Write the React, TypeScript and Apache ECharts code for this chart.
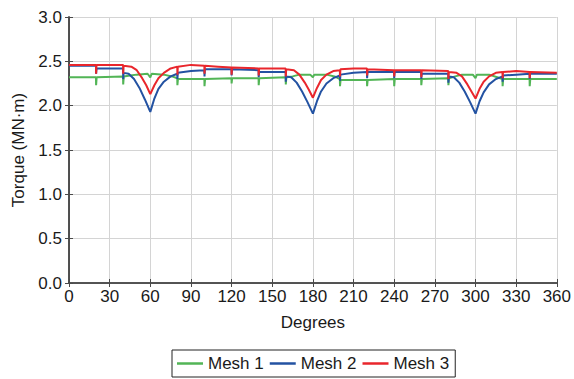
import React, { useEffect, useRef } from "react";
import * as echarts from "echarts";

const seriesNames = ["Mesh 1", "Mesh 2", "Mesh 3"];
const seriesColors = ["#52b556", "#2352a2", "#e9262c"];

const xTicks = { min: 0, max: 360, interval: 30 };
const yTicks = { min: 0, max: 3, interval: 0.5 };

const mesh1: [number, number][] = [
  [0, 2.32], [19.9, 2.32], [20, 2.23], [20.4, 2.32], [39.9, 2.33], [40, 2.24], [40.4, 2.33],
  [45, 2.34], [50, 2.35], [58, 2.36], [60, 2.32], [61, 2.36], [70, 2.35], [76, 2.33],
  [79.9, 2.31], [80, 2.23], [80.4, 2.30], [99.9, 2.30], [100, 2.22], [100.4, 2.30],
  [119.9, 2.31], [120, 2.25], [120.4, 2.31], [139.9, 2.31], [140, 2.23], [140.4, 2.31],
  [159.9, 2.32], [160, 2.24], [160.4, 2.32], [165, 2.33], [170, 2.35], [178, 2.35],
  [180, 2.32], [181, 2.35], [190, 2.35], [196, 2.33], [199.9, 2.30], [200, 2.22],
  [200.4, 2.29], [219.9, 2.29], [220, 2.22], [220.4, 2.29], [239.9, 2.30], [240, 2.22],
  [240.4, 2.30], [259.9, 2.30], [260, 2.23], [260.4, 2.30], [279.9, 2.31], [280, 2.23],
  [280.4, 2.31], [285, 2.33], [290, 2.35], [298, 2.35], [300, 2.31], [301, 2.35],
  [310, 2.35], [316, 2.32], [319.9, 2.30], [320, 2.22], [320.4, 2.30], [339.9, 2.30],
  [340, 2.22], [340.4, 2.30], [360, 2.30],
];

const mesh2: [number, number][] = [
  [0, 2.45], [19.9, 2.45], [20, 2.36], [20.3, 2.42], [39.9, 2.42], [40, 2.30], [40.3, 2.37],
  [44, 2.36], [48, 2.30], [52, 2.20], [56, 2.07], [60, 1.93], [63, 2.08], [66, 2.19],
  [70, 2.27], [75, 2.33], [79.9, 2.36], [80, 2.30], [80.3, 2.37], [90, 2.39], [99.9, 2.40],
  [100, 2.33], [100.3, 2.41], [110, 2.41], [119.9, 2.41], [120, 2.34], [120.3, 2.41],
  [139.9, 2.40], [140, 2.32], [140.3, 2.38], [159.9, 2.38], [160, 2.27], [160.3, 2.33],
  [164, 2.32], [168, 2.26], [172, 2.16], [176, 2.04], [180, 1.91], [183, 2.05], [186, 2.16],
  [190, 2.25], [195, 2.31], [199.9, 2.34], [200, 2.28], [200.3, 2.35], [210, 2.37],
  [219.9, 2.38], [220, 2.31], [220.3, 2.38], [239.9, 2.38], [240, 2.31], [240.3, 2.38],
  [259.9, 2.38], [260, 2.30], [260.3, 2.36], [279.9, 2.36], [280, 2.26], [280.3, 2.33],
  [284, 2.32], [288, 2.26], [292, 2.16], [296, 2.04], [300, 1.91], [303, 2.05], [306, 2.15],
  [310, 2.24], [315, 2.30], [319.9, 2.33], [320, 2.27], [320.3, 2.34], [330, 2.35],
  [339.9, 2.36], [340, 2.30], [340.3, 2.36], [360, 2.36],
];

const mesh3: [number, number][] = [
  [0, 2.46], [19.9, 2.46], [20, 2.36], [20.3, 2.46], [39.9, 2.46], [40, 2.36], [40.3, 2.45],
  [46, 2.44], [50, 2.40], [54, 2.31], [57, 2.23], [60, 2.13], [63, 2.23], [66, 2.31],
  [70, 2.37], [75, 2.42], [79.9, 2.44], [80, 2.35], [80.3, 2.44], [90, 2.46], [99.9, 2.45],
  [100, 2.36], [100.3, 2.45], [110, 2.44], [119.9, 2.43], [120, 2.35], [120.3, 2.43],
  [139.9, 2.42], [140, 2.34], [140.3, 2.42], [159.9, 2.42], [160, 2.33], [160.3, 2.41],
  [166, 2.40], [170, 2.35], [174, 2.26], [177, 2.18], [180, 2.09], [183, 2.20], [186, 2.29],
  [190, 2.35], [195, 2.39], [199.9, 2.40], [200, 2.33], [200.3, 2.41], [210, 2.42],
  [219.9, 2.42], [220, 2.34], [220.3, 2.41], [239.9, 2.40], [240, 2.33], [240.3, 2.40],
  [259.9, 2.40], [260, 2.32], [260.3, 2.40], [279.9, 2.39], [280, 2.30], [280.3, 2.38],
  [286, 2.37], [290, 2.33], [294, 2.24], [297, 2.16], [300, 2.08], [303, 2.19], [306, 2.27],
  [310, 2.33], [315, 2.37], [319.9, 2.38], [320, 2.31], [320.3, 2.38], [330, 2.39],
  [339.9, 2.38], [340, 2.31], [340.3, 2.38], [360, 2.37],
];

const allData = [mesh1, mesh2, mesh3];

const FONT = "Liberation Sans, Arial, Helvetica, sans-serif";
const TEXT = "#1a1a1a";
const AXIS = "#4a4a4a";
const FS = 17;

export default function App() {
  const ref = useRef<HTMLDivElement>(null);
  useEffect(() => {
    if (!ref.current) return;
    const chart = echarts.init(ref.current, undefined, { renderer: "svg" });
    const axisLine = { show: true, lineStyle: { color: AXIS, width: 1.6 } };
    const ticks = { show: true, inside: true, length: 4, lineStyle: { color: AXIS, width: 1 } };
    chart.setOption({
      animation: false,
      textStyle: { fontFamily: FONT },
      grid: { left: 69, right: 16, top: 17, bottom: 96, containLabel: false },
      legend: {
        data: seriesNames,
        bottom: 2,
        left: 172,
        orient: "horizontal",
        icon: "rect",
        itemWidth: 26,
        itemHeight: 2.5,
        itemGap: 6,
        padding: [5, 6, 5, 5],
        borderColor: "#222",
        borderWidth: 1,
        textStyle: { fontSize: FS, color: TEXT, fontFamily: FONT, padding: [0, 0, 0, 0] },
      },
      xAxis: [
        {
          type: "value",
          min: xTicks.min,
          max: xTicks.max,
          interval: xTicks.interval,
          name: "Degrees",
          nameLocation: "middle",
          nameGap: 31,
          nameTextStyle: { fontSize: FS, color: TEXT, fontFamily: FONT },
          axisLine,
          axisTick: ticks,
          axisLabel: { fontSize: FS, color: TEXT, margin: 5, fontFamily: FONT },
          splitLine: { show: true, lineStyle: { color: "#d4d4d4", width: 1 } },
        },
        {
          type: "value",
          position: "top",
          min: xTicks.min,
          max: xTicks.max,
          interval: xTicks.interval,
          axisLine,
          axisTick: ticks,
          axisLabel: { show: false },
          splitLine: { show: false },
        },
      ],
      yAxis: [
        {
          type: "value",
          min: yTicks.min,
          max: yTicks.max,
          interval: yTicks.interval,
          name: "Torque (MN·m)",
          nameLocation: "middle",
          nameGap: 42,
          nameTextStyle: { fontSize: FS, color: TEXT, fontFamily: FONT },
          axisLine,
          axisTick: ticks,
          axisLabel: {
            fontSize: FS,
            color: TEXT,
            margin: 7,
            fontFamily: FONT,
            formatter: (v: number) => v.toFixed(1),
          },
          splitLine: { show: true, lineStyle: { color: "#d4d4d4", width: 1 } },
        },
        {
          type: "value",
          position: "right",
          min: yTicks.min,
          max: yTicks.max,
          interval: yTicks.interval,
          axisLine,
          axisTick: ticks,
          axisLabel: { show: false },
          splitLine: { show: false },
        },
      ],
      series: seriesNames.map((name, i) => ({
        name,
        type: "line",
        data: allData[i],
        showSymbol: false,
        symbol: "none",
        color: seriesColors[i],
        lineStyle: { color: seriesColors[i], width: 2 },
        xAxisIndex: 0,
        yAxisIndex: 0,
      })),
    });
    return () => chart.dispose();
  }, []);
  return (
    <div
      ref={ref}
      style={{ position: "absolute", left: 0, top: 0, width: 574, height: 379 }}
    />
  );
}
